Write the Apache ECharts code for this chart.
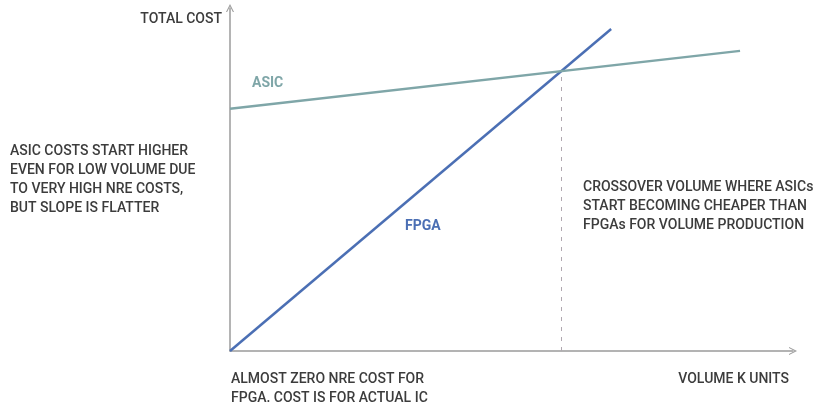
<!DOCTYPE html>
<html>
<head>
<meta charset="utf-8">
<script src="https://cdn.jsdelivr.net/npm/echarts@6/dist/echarts.min.js"></script>
<style>
  html, body { margin: 0; padding: 0; background: #fff; }
  #chart { width: 824px; height: 406px; }
</style>
</head>
<body>
<div id="chart"></div>
<script>
// values (arbitrary units, 0..100 on both axes)
var asicVolume = [0, 90.6]
var asicCost = [70.6, 87.5]
var fpgaVolume = [0, 67.7]
var fpgaCost = [0, 93.9]
var crossoverVolume = 58.8
var crossoverCost = 81.6

var FONT = 'Roboto, sans-serif'
var TEXT = '#3c3c3c'
var AXIS = '#9b9b9b'
var ASIC_COLOR = '#7fa6a8'
var FPGA_COLOR = '#4b6fb4'
// open chevron used as the arrow head
var chevron = 'path://M0,10 L5,0 L10,10 L8.6,10 L5,2.8 L1.4,10 Z'

var myChart = echarts.init(document.getElementById('chart'))

function pairs(xs, ys) {
  return xs.map(function (x, i) { return [x, ys[i]] })
}

function note(x, y, text, align) {
  return {
    type: 'text',
    left: align === 'right' ? null : x,
    right: align === 'right' ? x : null,
    top: y,
    style: {
      text: text,
      fill: TEXT,
      font: '500 14px ' + FONT,
      lineHeight: 19,
      textAlign: align || 'left'
    }
  }
}

var option = {
  animation: false,
  grid: { left: 230, right: 31, top: 8, bottom: 55 },
  xAxis: {
    type: 'value',
    min: 0,
    max: 100,
    axisLine: {
      lineStyle: { color: AXIS, width: 1.5 },
      symbol: ['none', chevron],
      symbolSize: [10, 8]
    },
    axisTick: { show: false },
    axisLabel: { show: false },
    splitLine: { show: false }
  },
  yAxis: {
    type: 'value',
    min: 0,
    max: 100,
    axisLine: {
      show: true,
      lineStyle: { color: AXIS, width: 1.5 },
      symbol: ['none', chevron],
      symbolSize: [10, 8]
    },
    axisTick: { show: false },
    axisLabel: { show: false },
    splitLine: { show: false }
  },
  series: [
    {
      name: 'ASIC',
      type: 'line',
      data: pairs(asicVolume, asicCost),
      symbol: 'none',
      lineStyle: { color: ASIC_COLOR, width: 2.5 },
      z: 3,
      markLine: {
        silent: true,
        symbol: 'none',
        label: { show: false },
        lineStyle: { color: '#b0a8b0', type: [4, 6], width: 1 },
        data: [[{ coord: [crossoverVolume, 0] }, { coord: [crossoverVolume, crossoverCost] }]]
      }
    },
    {
      name: 'FPGA',
      type: 'line',
      data: pairs(fpgaVolume, fpgaCost),
      symbol: 'none',
      lineStyle: { color: FPGA_COLOR, width: 2.5 },
      z: 2
    }
  ],
  graphic: [
    note(602, 10, 'TOTAL COST', 'right'),
    note(35, 370, 'VOLUME K UNITS', 'right'),
    note(10, 142, 'ASIC COSTS START HIGHER\nEVEN FOR LOW VOLUME DUE\nTO VERY HIGH NRE COSTS,\nBUT SLOPE IS FLATTER'),
    note(583, 178, 'CROSSOVER VOLUME WHERE ASICs\nSTART BECOMING CHEAPER THAN\nFPGAs FOR VOLUME PRODUCTION'),
    note(231, 370, 'ALMOST ZERO NRE COST FOR\nFPGA. COST IS FOR ACTUAL IC'),
    {
      type: 'text', left: 252, top: 76,
      style: { text: 'ASIC', fill: ASIC_COLOR, font: 'bold 14px ' + FONT }
    },
    {
      type: 'text', left: 405, top: 219,
      style: { text: 'FPGA', fill: FPGA_COLOR, font: 'bold 14px ' + FONT }
    }
  ]
}

myChart.setOption(option)

window.onresize = () => {
  myChart.resize()
}
</script>
</body>
</html>
